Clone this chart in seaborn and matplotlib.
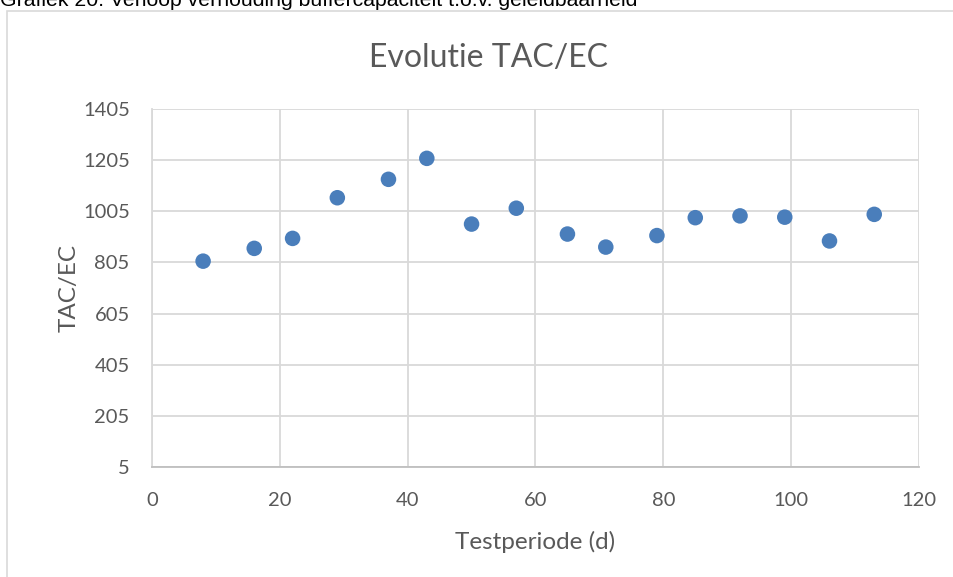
import numpy as np
import pandas as pd
import matplotlib
matplotlib.use("Agg")
import matplotlib.pyplot as plt
from matplotlib.patches import Rectangle
import seaborn as sns

# data
testdag = [8, 16, 22, 29, 37, 43, 50, 57, 65, 71, 79, 85, 92, 99, 106, 113]
tac_ec = [810, 860, 899, 1058, 1130, 1212, 955, 1017, 916, 865, 910, 980, 987, 982, 889, 993]

x_ticks = [0, 20, 40, 60, 80, 100, 120]
y_ticks = [5, 205, 405, 605, 805, 1005, 1205, 1405]

df = pd.DataFrame({"Testperiode (d)": testdag, "TAC/EC": tac_ec})

sns.set_style("whitegrid")
plt.rcParams["font.family"] = ["Lato", "DejaVu Sans"]

grid_col = "#d9d9d9"
text_col = "#595959"

fig = plt.figure(figsize=(9.54, 5.77), dpi=100)
ax = fig.add_axes([0.1593, 0.1906, 0.804, 0.6205])

sns.scatterplot(data=df, x="Testperiode (d)", y="TAC/EC", ax=ax,
                color="#4a7ebb", s=125, edgecolor="none", zorder=3)

ax.set_xlim(0, 120)
ax.set_ylim(5, 1405)
ax.set_xticks(x_ticks)
ax.set_yticks(y_ticks)
ax.grid(True, color=grid_col, linewidth=1.3)
for side in ["top", "right"]:
    ax.spines[side].set_visible(False)
ax.spines["left"].set_color(grid_col)
ax.spines["bottom"].set_color("#bfbfbf")
for side in ["left", "bottom"]:
    ax.spines[side].set_linewidth(1.3)
ax.tick_params(axis="both", length=0, labelsize=14.5, colors=text_col)
ax.tick_params(axis="x", pad=18)
ax.tick_params(axis="y", pad=16)

ax.set_xlabel("Testperiode (d)", fontsize=17.5, color=text_col, labelpad=16)
ax.set_ylabel("TAC/EC", fontsize=17.5, color=text_col, labelpad=2)

fig.text(0.512, 0.9, "Evolutie TAC/EC", ha="center", va="center",
         fontsize=23, color=text_col)

# caption from the report, cut off at the top edge like in the source
fig.text(0.0, 1 - 6.5 / 577, "Grafiek 20: Verloop verhouding buffercapaciteit t.o.v. geleidbaarheid",
         ha="left", va="baseline", fontsize=15.3, color="black",
         family=["Liberation Sans", "DejaVu Sans"])

# outer chart border
fig.patches.append(Rectangle((7.5 / 954, -0.1), 1.2, 1 - 10.5 / 577 + 0.1,
                             transform=fig.transFigure, fill=False,
                             edgecolor=grid_col, linewidth=1.2))

fig.savefig("out.png", dpi=100)
